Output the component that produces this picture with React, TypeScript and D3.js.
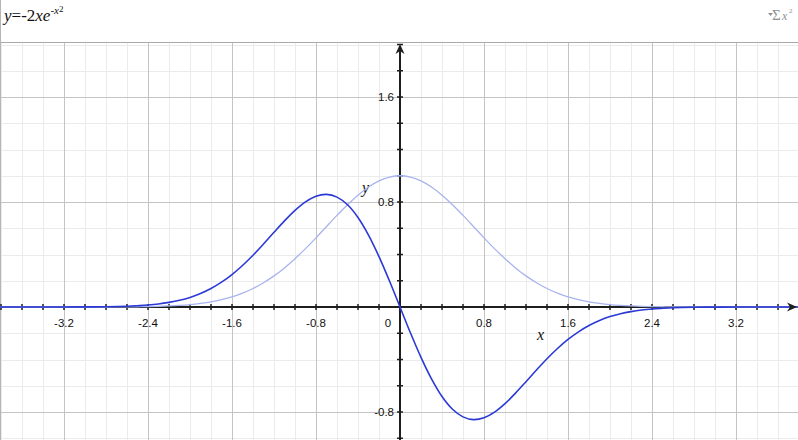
import { useEffect, useRef } from 'react';
import * as d3 from 'd3';

const X_VALUES = [
  -4.0, -3.8, -3.6, -3.4, -3.2, -3.0, -2.8, -2.6, -2.5, -2.4, -2.3, -2.2, -2.1, -2.0,
  -1.9, -1.8, -1.7, -1.6, -1.5, -1.4, -1.3, -1.2, -1.1, -1.0, -0.9, -0.8, -0.7, -0.6,
  -0.5, -0.4, -0.3, -0.2, -0.1, 0, 0.1, 0.2, 0.3, 0.4, 0.5, 0.6, 0.7, 0.8, 0.9, 1.0,
  1.1, 1.2, 1.3, 1.4, 1.5, 1.6, 1.7, 1.8, 1.9, 2.0, 2.1, 2.2, 2.3, 2.4, 2.5, 2.6,
  2.8, 3.0, 3.2, 3.4, 3.6, 3.8, 4.0,
];
const DARK_VALUES = [
  0, 0, 0, 0, 0, 0.001, 0.002, 0.006, 0.010, 0.015, 0.023, 0.035, 0.051, 0.073,
  0.103, 0.141, 0.189, 0.247, 0.316, 0.394, 0.480, 0.569, 0.656, 0.736, 0.801, 0.844, 0.858, 0.837,
  0.779, 0.682, 0.548, 0.384, 0.198, 0, -0.198, -0.384, -0.548, -0.682, -0.779, -0.837, -0.858, -0.844, -0.801, -0.736,
  -0.656, -0.569, -0.480, -0.394, -0.316, -0.247, -0.189, -0.141, -0.103, -0.073, -0.051, -0.035, -0.023, -0.015, -0.010, -0.006,
  -0.002, -0.001, 0, 0, 0, 0, 0,
];
const LIGHT_VALUES = [
  0, 0, 0, 0, 0, 0, 0, 0.001, 0.002, 0.003, 0.005, 0.008, 0.012, 0.018,
  0.027, 0.039, 0.056, 0.077, 0.105, 0.141, 0.185, 0.237, 0.298, 0.368, 0.445, 0.527, 0.613, 0.698,
  0.779, 0.852, 0.914, 0.961, 0.990, 1.000, 0.990, 0.961, 0.914, 0.852, 0.779, 0.698, 0.613, 0.527, 0.445, 0.368,
  0.298, 0.237, 0.185, 0.141, 0.105, 0.077, 0.056, 0.039, 0.027, 0.018, 0.012, 0.008, 0.005, 0.003, 0.002, 0.001,
  0, 0, 0, 0, 0, 0, 0,
];
const X_TICK_LABELS = [-3.2, -2.4, -1.6, -0.8, 0, 0.8, 1.6, 2.4, 3.2];
const Y_TICK_LABELS = [-0.8, 0.8, 1.6];

const WIDTH = 798;
const HEIGHT = 440;
const HEADER = 42;

const COLOR_DARK = "#2b3ad6";
const COLOR_LIGHT = "#a8b4ee";
const COLOR_AXIS = "#1e1e1e";
const COLOR_MINOR = "#ebebeb";
const COLOR_MAJOR = "#c4c4c4";

export default function App() {
  const svgRef = useRef<SVGSVGElement>(null);

  useEffect(() => {
    if (!svgRef.current) return;
    const svg = d3.select(svgRef.current);
    svg.selectAll("*").remove();

    const x = d3.scaleLinear().domain([-400 / 105, 398 / 105]).range([0, WIDTH]);
    const y = d3.scaleLinear().domain([(307 - HEIGHT) / 131.25, (307 - HEADER) / 131.25]).range([HEIGHT, HEADER]);

    svg.append("rect").attr("width", WIDTH).attr("height", HEIGHT).attr("fill", "white");

    svg.append("clipPath").attr("id", "plot-clip")
      .append("rect").attr("x", 0).attr("y", HEADER).attr("width", WIDTH).attr("height", HEIGHT - HEADER);

    const isMajor = (v: number) => Math.abs(v / 0.8 - Math.round(v / 0.8)) < 1e-6;
    const gridX = d3.range(-19, 20).map(i => +(i * 0.2).toFixed(1));
    const gridY = d3.range(-5, 11).map(i => +(i * 0.2).toFixed(1));

    // Grid, minor first then major
    const grid = svg.append("g").attr("clip-path", "url(#plot-clip)");
    for (const major of [false, true]) {
      grid.selectAll(null)
        .data(gridX.filter(v => isMajor(v) === major && v !== 0))
        .join("line")
        .attr("x1", d => Math.round(x(d)) + 0.5).attr("x2", d => Math.round(x(d)) + 0.5)
        .attr("y1", HEADER).attr("y2", HEIGHT)
        .attr("stroke", major ? COLOR_MAJOR : COLOR_MINOR);
      grid.selectAll(null)
        .data(gridY.filter(v => isMajor(v) === major && v !== 0))
        .join("line")
        .attr("y1", d => Math.round(y(d)) + 0.5).attr("y2", d => Math.round(y(d)) + 0.5)
        .attr("x1", 0).attr("x2", WIDTH)
        .attr("stroke", major ? COLOR_MAJOR : COLOR_MINOR);
    }

    // Header
    svg.append("line").attr("x1", 0).attr("x2", WIDTH).attr("y1", HEADER + 0.5).attr("y2", HEADER + 0.5)
      .attr("stroke", "#a9a9a9");
    svg.append("line").attr("x1", 0.5).attr("x2", 0.5).attr("y1", 0).attr("y2", HEIGHT)
      .attr("stroke", "#b5b5b5");

    const title = svg.append("text").attr("x", 4).attr("y", 21)
      .attr("font-family", "'Liberation Serif', 'DejaVu Serif', serif").attr("font-size", 17).attr("fill", "#111");
    title.append("tspan").attr("font-style", "italic").text("y");
    title.append("tspan").text("=-2");
    title.append("tspan").attr("font-style", "italic").text("xe");
    title.append("tspan").attr("font-style", "italic").attr("font-size", 11).attr("dy", -7).text("-x");
    title.append("tspan").attr("font-size", 9).attr("dy", -2).text("2");

    // Equation-editor icon in the top right
    const icon = svg.append("g").attr("fill", "#8f8f8f").attr("font-family", "'Liberation Serif', serif");
    icon.append("path").attr("d", "M768,13 L773,13 L770.5,16 Z");
    icon.append("text").attr("x", 772).attr("y", 20).attr("font-size", 15).text("Σ");
    icon.append("text").attr("x", 782).attr("y", 20).attr("font-size", 12).attr("font-style", "italic").text("x");
    icon.append("text").attr("x", 789).attr("y", 13).attr("font-size", 7).text("2");

    // Axes
    const x0 = x(0);
    const y0 = y(0);
    const axes = svg.append("g").attr("stroke", COLOR_AXIS);
    axes.append("line").attr("x1", x0).attr("x2", x0).attr("y1", HEADER + 6).attr("y2", HEIGHT).attr("stroke-width", 2);
    axes.append("line").attr("x1", 0).attr("x2", WIDTH - 6).attr("y1", y0).attr("y2", y0).attr("stroke-width", 2);
    axes.selectAll(null).data(gridX.filter(v => v !== 0)).join("line")
      .attr("x1", d => x(d)).attr("x2", d => x(d)).attr("y1", y0 - 3).attr("y2", y0 + 3).attr("stroke-width", 1.5);
    axes.selectAll(null).data(gridY.filter(v => v !== 0)).join("line")
      .attr("y1", d => y(d)).attr("y2", d => y(d)).attr("x1", x0 - 3).attr("x2", x0 + 3).attr("stroke-width", 1.5);
    svg.append("path").attr("fill", COLOR_AXIS)
      .attr("d", `M${x0},${HEADER + 2} L${x0 + 4.5},${HEADER + 12} L${x0},${HEADER + 9} L${x0 - 4.5},${HEADER + 12} Z`);

    // Tick labels
    const labels = svg.append("g").attr("font-family", "'Liberation Sans', Arial, sans-serif")
      .attr("font-size", 11.5).attr("fill", "#111");
    labels.selectAll(null).data(X_TICK_LABELS).join("text")
      .attr("x", d => (d === 0 ? x(d) - 12 : x(d)))
      .attr("y", y0 + 20)
      .attr("text-anchor", "middle")
      .text(d => String(d));
    labels.selectAll(null).data(Y_TICK_LABELS).join("text")
      .attr("x", x0 - 6)
      .attr("y", d => y(d) + 4)
      .attr("text-anchor", "end")
      .text(d => String(d));

    // Axis names
    const names = svg.append("g").attr("font-family", "'Liberation Serif', serif").attr("font-style", "italic")
      .attr("font-size", 16).attr("fill", "#111");
    names.append("text").attr("x", 537).attr("y", 340).text("x");
    names.append("text").attr("x", 362).attr("y", 193).text("y");

    // Curves
    const points = (vals: number[]) => X_VALUES.map((v, i) => [v, vals[i]] as [number, number]);
    const line = d3.line<[number, number]>()
      .x(d => x(d[0]))
      .y(d => y(d[1]))
      .curve(d3.curveCatmullRom);
    const curves = svg.append("g").attr("clip-path", "url(#plot-clip)").attr("fill", "none");
    curves.append("path").attr("d", line(points(LIGHT_VALUES))).attr("stroke", COLOR_LIGHT).attr("stroke-width", 1.3);
    curves.append("path").attr("d", line(points(DARK_VALUES))).attr("stroke", COLOR_DARK).attr("stroke-width", 1.6);

    // Arrow on the x axis drawn above the curve
    svg.append("path").attr("fill", COLOR_AXIS)
      .attr("d", `M${WIDTH - 1},${y0} L${WIDTH - 11},${y0 - 4.5} L${WIDTH - 8},${y0} L${WIDTH - 11},${y0 + 4.5} Z`);
  }, []);

  return (
    <svg
      ref={svgRef}
      width={WIDTH}
      height={HEIGHT}
      style={{ position: 'absolute', left: 0, top: 0, display: 'block' }}
    />
  );
}
